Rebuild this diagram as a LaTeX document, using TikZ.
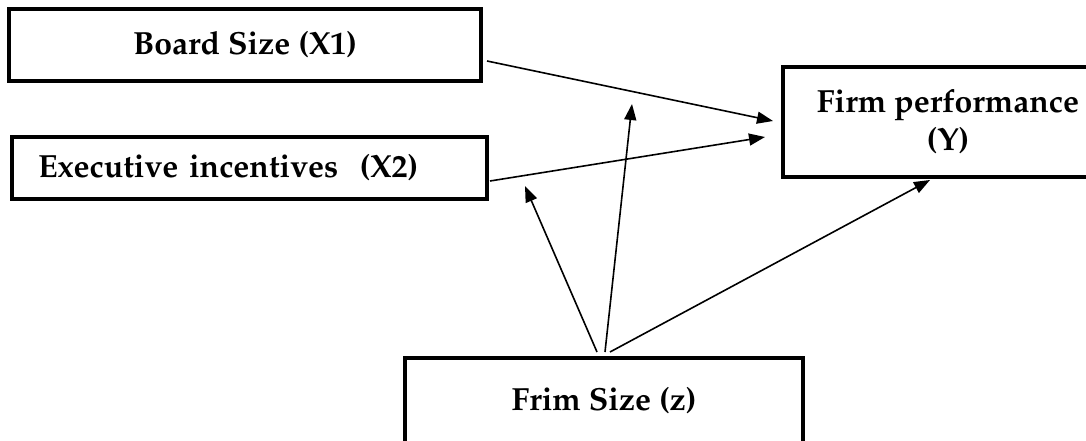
\documentclass[tikz,border=0pt]{standalone}
\usepackage[T1]{fontenc}
\usepackage{mathpazo}
\usetikzlibrary{arrows.meta,positioning}

\tikzset{
  varbox/.style={draw, line width=4pt, rectangle, inner sep=0pt, align=center,
    font=\fontsize{32}{38}\selectfont\bfseries},
  arr/.style={line width=1.6pt, -{Triangle[length=16pt,width=12pt]}}
}

\begin{document}
\begin{tikzpicture}[x=1pt, y=-1pt]
  \useasboundingbox (0,0) rectangle (1086,441);
  \clip (0,0) rectangle (1086,441);

  % variables
  \node[varbox, minimum width=472pt, minimum height=72pt] (bs) at (245,45) {Board Size (X1)};
  \node[varbox, minimum width=475pt, minimum height=62pt, text width=423pt,
        inner xsep=26pt, align=left] (ex) at (249.5,168) {Executive incentives\ \ (X2)};
  \node[varbox, minimum width=330pt, minimum height=110pt] (fp) at (948,122)
        {Firm performance\\(Y)};
  \node[varbox, minimum width=398pt, minimum height=86pt] (fs) at (604,401) {Frim Size (z)};

  % moderating targets on the direct paths
  \coordinate (m1) at (525,186);
  \coordinate (m2) at (632,104);

  % direct effects
  \draw[arr] ([xshift=4pt,yshift=-16pt]bs.east) -- ([xshift=-8pt,yshift=1pt]fp.west);
  \draw[arr] ([xshift=1pt,yshift=-13pt]ex.east) -- ([xshift=-16pt,yshift=-15pt]fp.west);

  % firm size effects
  \draw[arr] ([xshift=-7pt,yshift=4pt]fs.north) -- (m1);
  \draw[arr] ([xshift=1pt,yshift=4pt]fs.north) -- (m2);
  \draw[arr] ([xshift=6pt,yshift=4pt]fs.north) -- ([xshift=-18pt,yshift=-1pt]fp.south);
\end{tikzpicture}
\end{document}
